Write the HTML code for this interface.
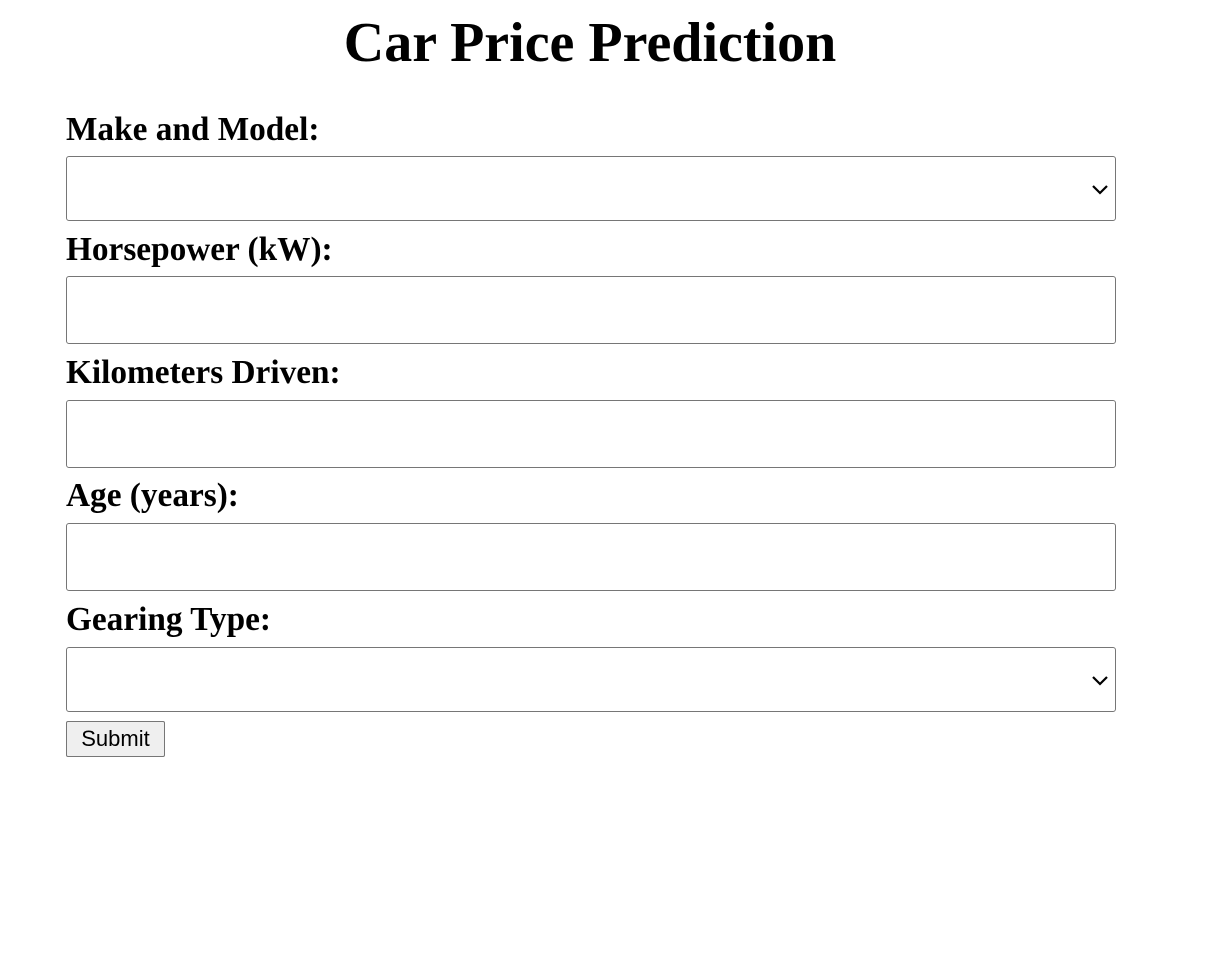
<!DOCTYPE html>
<html><head><meta charset="utf-8"><style>
body{margin:0;width:1225px;height:962px;background:#fff;position:relative;overflow:hidden;font-family:"Liberation Serif",serif}
h1,.lbl{position:absolute;margin:0;font-weight:bold;line-height:normal;white-space:nowrap}
h1{font-size:56px;left:0;width:1180px;text-align:center;top:11px}
.lbl{font-size:33.3px;left:66px}
.box{position:absolute;left:66px;width:1048px;border:1px solid #767676;border-radius:3px;background:#fff;box-sizing:content-box}
.chev{position:absolute;right:6px;top:50%;margin-top:-7px}
.btn{position:absolute;left:66px;top:721px;width:97px;height:34px;border:1px solid #767676;border-radius:2px;background:#efefef;font-family:"Liberation Sans",sans-serif;font-size:22px;text-align:center;line-height:34px;color:#000}
</style></head><body>
<h1>Car Price Prediction</h1>
<div class="lbl" style="top:111px">Make and Model:</div>
<div class="box" style="top:156px;height:63px"><svg class="chev" width="18" height="14" viewBox="0 0 18 14"><polyline points="2,4 9,11 16,4" fill="none" stroke="#000" stroke-width="2.2"/></svg></div>
<div class="lbl" style="top:231px">Horsepower (kW):</div>
<div class="box" style="top:276px;height:66px"></div>
<div class="lbl" style="top:354px">Kilometers Driven:</div>
<div class="box" style="top:400px;height:66px"></div>
<div class="lbl" style="top:477px">Age (years):</div>
<div class="box" style="top:523px;height:66px"></div>
<div class="lbl" style="top:601px">Gearing Type:</div>
<div class="box" style="top:647px;height:63px"><svg class="chev" width="18" height="14" viewBox="0 0 18 14"><polyline points="2,4 9,11 16,4" fill="none" stroke="#000" stroke-width="2.2"/></svg></div>
<div class="btn">Submit</div>
</body></html>
